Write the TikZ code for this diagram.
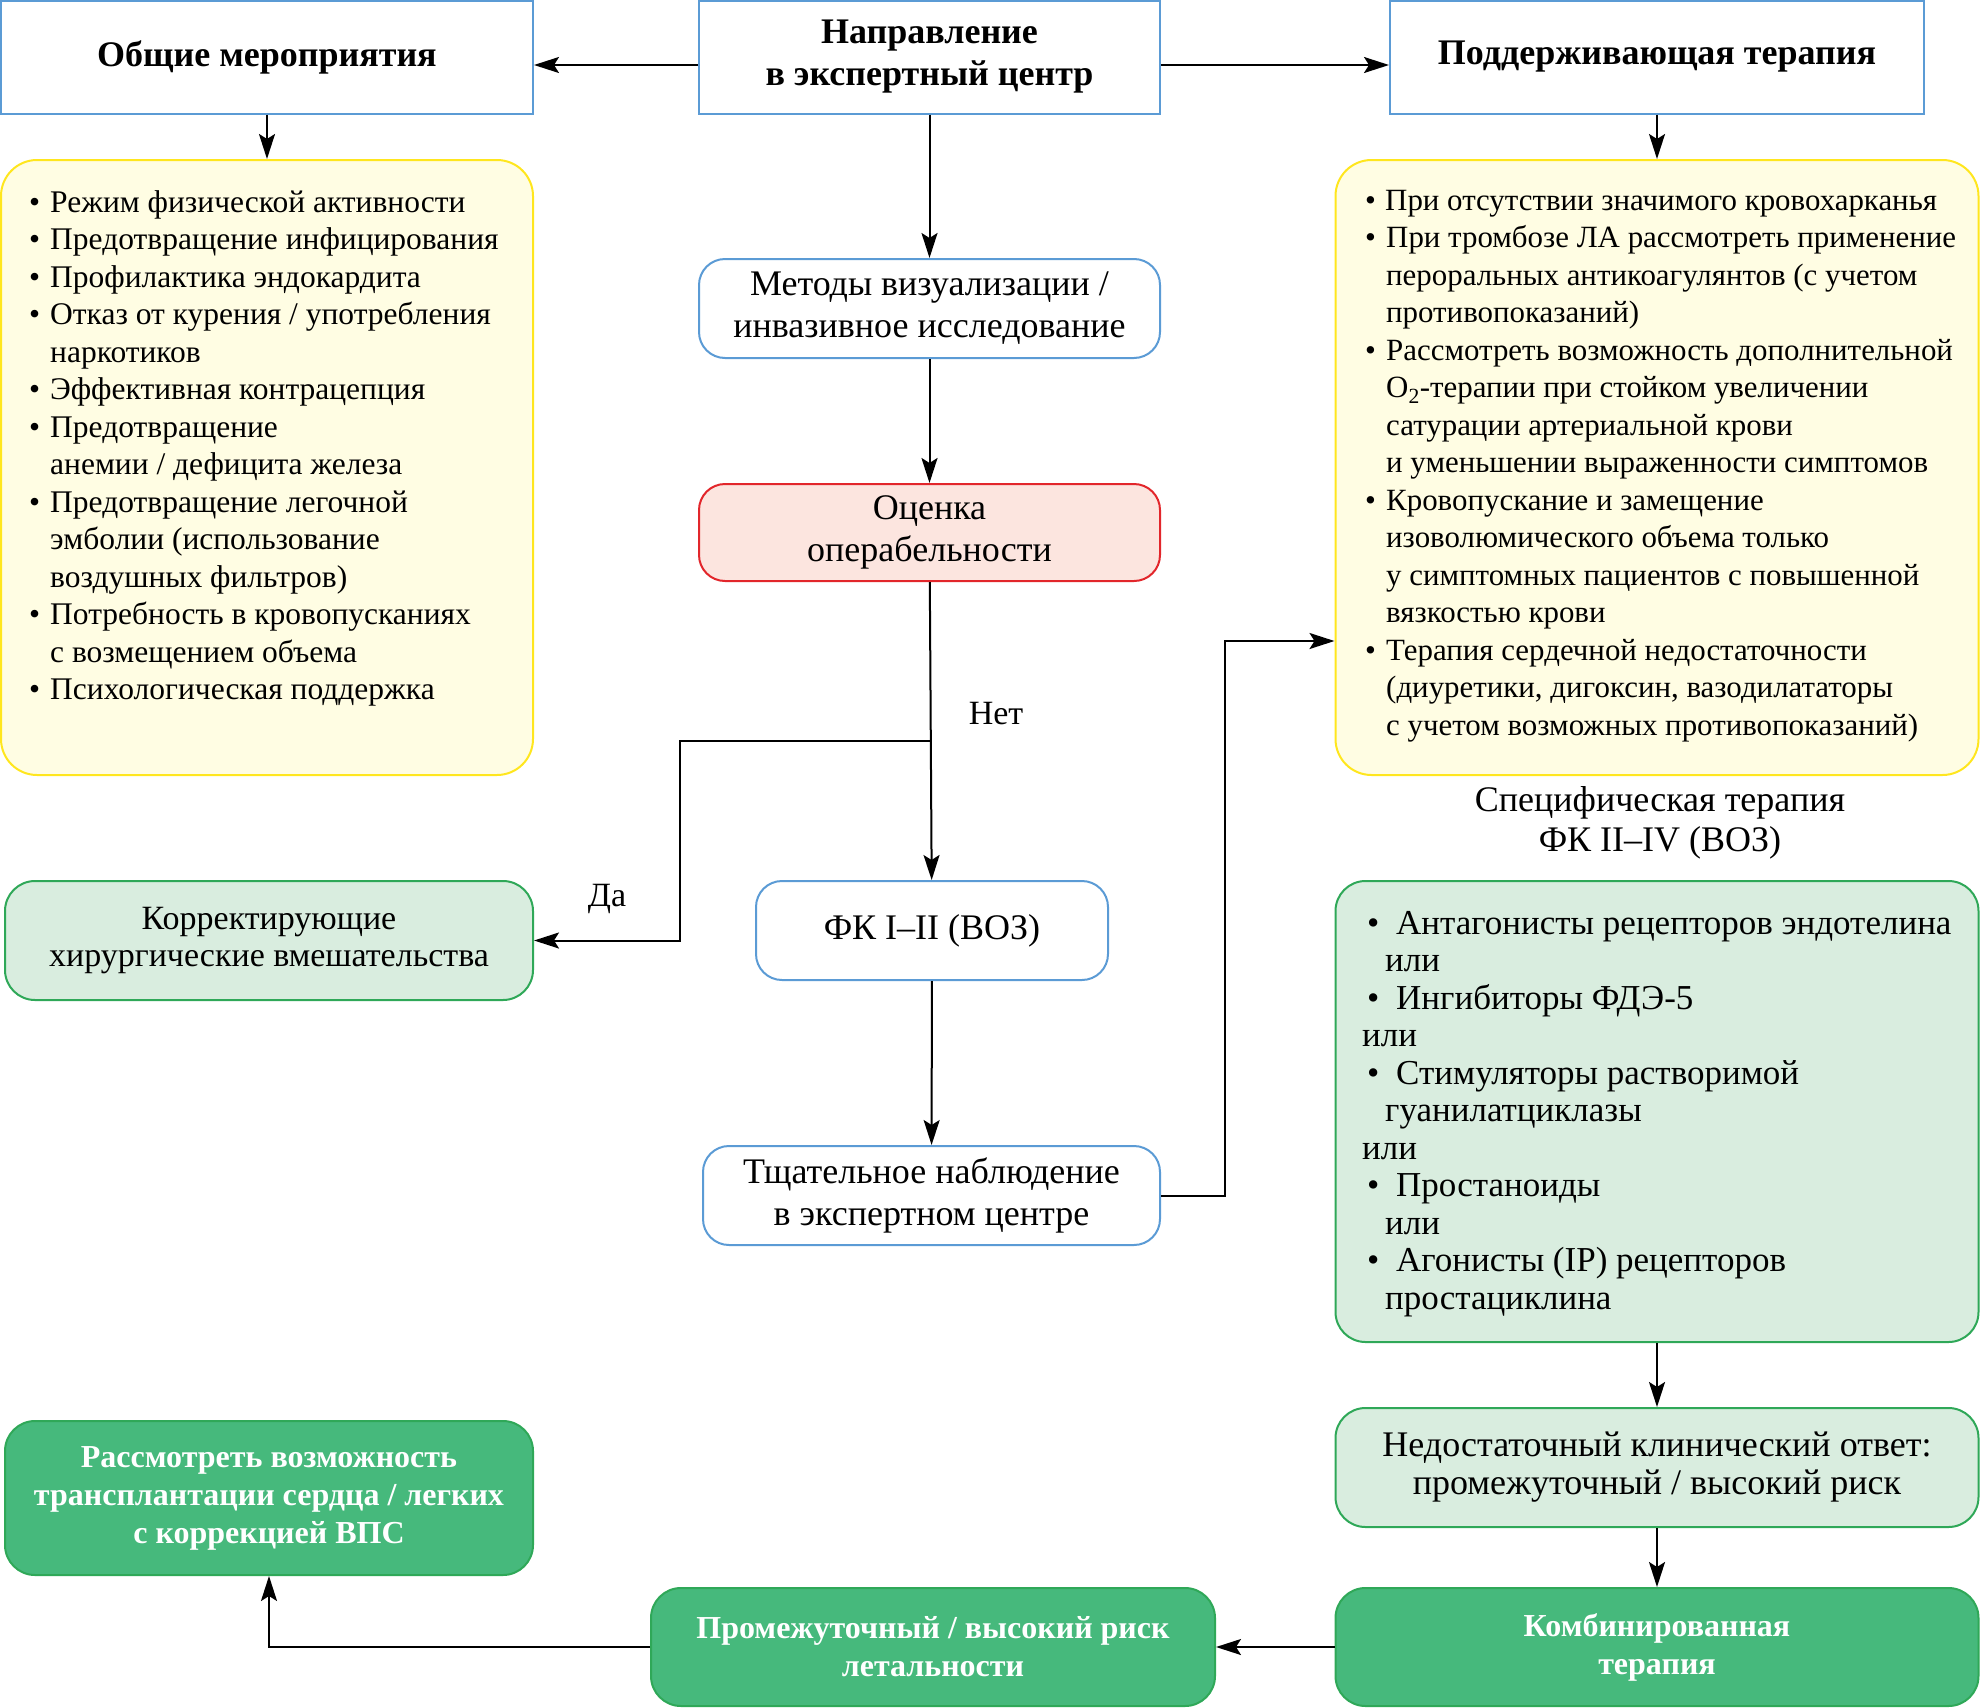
\documentclass[tikz,border=0pt]{standalone}
\usepackage{fontspec}
\setmainfont{Liberation Serif}
\usetikzlibrary{arrows.meta}

\definecolor{headblue}{HTML}{5B9BD5}
\definecolor{noteyellow}{HTML}{FFFDE3}
\definecolor{edgeyellow}{HTML}{FFE61E}
\definecolor{operred}{HTML}{FCE5DF}
\definecolor{edgered}{HTML}{E2262B}
\definecolor{palegreen}{HTML}{D9EDDF}
\definecolor{edgegreen}{HTML}{2FA858}
\definecolor{deepgreen}{HTML}{46B97C}

\newlength\dotwidth
\setlength\dotwidth{21pt}
\newcommand\dotitem{\makebox[\dotwidth][l]{•}}
\newcommand\dotcont{\hspace*{\dotwidth}}
\newcommand\specitem{\hspace*{5pt}\makebox[29pt][l]{•}}
\newcommand\speccont{\hspace*{23pt}}

\begin{document}
\begin{tikzpicture}[x=1pt,y=-1pt,
    head/.style={draw=headblue,line width=2pt,fill=white,align=center,inner sep=0pt,
      font=\fontsize{36}{42}\selectfont\bfseries},
    stage/.style={draw=headblue,line width=2pt,fill=white,rounded corners=26pt,align=center,
      inner sep=0pt,font=\fontsize{36}{42}\selectfont},
    notebox/.style={draw=edgeyellow,line width=2pt,fill=noteyellow,rounded corners=36pt},
    notetext/.style={anchor=north west,align=left,inner sep=0pt,
      font=\fontsize{31.5}{37.5}\selectfont},
    greenbox/.style={draw=edgegreen,line width=2pt,fill=palegreen,rounded corners=30pt,
      align=center,inner sep=0pt,font=\fontsize{34}{37.5}\selectfont},
    darkbox/.style={draw=edgegreen,line width=2pt,fill=deepgreen,rounded corners=30pt,
      align=center,inner sep=0pt,text=white,font=\fontsize{32}{38}\selectfont\bfseries},
    arr/.style={-{Stealth[length=25pt,width=16pt,inset=5pt]},line width=2pt},
    lbl/.style={inner sep=0pt,font=\fontsize{34}{40}\selectfont}]

  \useasboundingbox (0,0) rectangle (1982,1708);

  \node[head,minimum width=532pt,minimum height=113pt] (gen)  at (267,57)    {Общие мероприятия};
  \node[head,minimum width=461pt,minimum height=113pt] (dir)  at (929.5,57)  {Направление\\в экспертный центр};
  \node[head,minimum width=534pt,minimum height=113pt] (supp) at (1657,57)   {Поддерживающая терапия};

  \node[notebox,minimum width=532pt,minimum height=615pt] (genlist)  at (267,467.5)  {};
  \node[notebox,minimum width=643pt,minimum height=615pt] (supplist) at (1657,467.5) {};

  \node[notetext] (genitems) at (29,190) {%
    \dotitem Режим физической активности\\
    \dotitem Предотвращение инфицирования\\
    \dotitem Профилактика эндокардита\\
    \dotitem Отказ от курения / употребления\\
    \dotcont наркотиков\\
    \dotitem Эффективная контрацепция\\
    \dotitem Предотвращение\\
    \dotcont анемии / дефицита железа\\
    \dotitem Предотвращение легочной\\
    \dotcont эмболии (использование\\
    \dotcont воздушных фильтров)\\
    \dotitem Потребность в кровопусканиях\\
    \dotcont с возмещением объема\\
    \dotitem Психологическая поддержка};

  \node[notetext,font=\fontsize{30.9}{37.5}\selectfont] (suppitems) at (1365,190) {%
    \setlength\dotwidth{20pt}%
    \dotitem При отсутствии значимого кровохарканья\\
    \dotitem При тромбозе ЛА рассмотреть применение\\
    \dotcont пероральных антикоагулянтов (с учетом\\
    \dotcont противопоказаний)\\
    \dotitem Рассмотреть возможность дополнительной\\
    \dotcont O\textsubscript{2}-терапии при стойком увеличении\\
    \dotcont сатурации артериальной крови\\
    \dotcont и уменьшении выраженности симптомов\\
    \dotitem Кровопускание и замещение\\
    \dotcont изоволюмического объема только\\
    \dotcont у симптомных пациентов с повышенной\\
    \dotcont вязкостью крови\\
    \dotitem Терапия сердечной недостаточности\\
    \dotcont (диуретики, дигоксин, вазодилататоры\\
    \dotcont с учетом возможных противопоказаний)};

  \node[stage,minimum width=461pt,minimum height=99pt] (img) at (929.5,308.5) {Методы визуализации /\\инвазивное исследование};
  \node[stage,minimum width=461pt,minimum height=97pt,draw=edgered,fill=operred] (oper) at (929.5,532.5) {Оценка\\операбельности};
  \node[stage,minimum width=352pt,minimum height=99pt] (fk12)  at (932,930.5)    {ФК I–II (ВОЗ)};
  \node[stage,minimum width=457pt,minimum height=99pt] (watch) at (931.5,1195.5) {Тщательное наблюдение\\в экспертном центре};

  \node[greenbox,minimum width=528pt,minimum height=119pt] (surg) at (269,940.5) {Корректирующие\\хирургические вмешательства};

  \node[lbl,align=center,font=\fontsize{36}{40.5}\selectfont] (spectitle) at (1660,823) {Специфическая терапия\\ФК II–IV (ВОЗ)};
  \node[greenbox,minimum width=643pt,minimum height=461pt] (spec) at (1657,1111.5) {};
  \node[notetext,font=\fontsize{35}{37.5}\selectfont] (specitems) at (1362,911) {%
    \specitem Антагонисты рецепторов эндотелина\\
    \speccont или\\
    \specitem Ингибиторы ФДЭ-5\\
    или\\
    \specitem Стимуляторы растворимой\\
    \speccont гуанилатциклазы\\
    или\\
    \specitem Простаноиды\\
    \speccont или\\
    \specitem Агонисты (IP) рецепторов\\
    \speccont простациклина};

  \node[greenbox,minimum width=643pt,minimum height=119pt,font=\fontsize{36}{38}\selectfont] (resp) at (1657,1467.5) {Недостаточный клинический ответ:\\промежуточный / высокий риск};
  \node[darkbox,minimum width=643pt,minimum height=118pt] (combo)  at (1657,1647) {Комбинированная\\терапия};
  \node[darkbox,minimum width=564pt,minimum height=118pt] (risk)   at (933,1647)  {Промежуточный / высокий риск\\летальности};
  \node[darkbox,minimum width=528pt,minimum height=154pt] (transp) at (269,1498)  {Рассмотреть возможность\\трансплантации сердца / легких\\с коррекцией ВПС};

  \coordinate (split) at (929.5,741);
  \coordinate (yesturn) at (680,741);
  \coordinate (back) at (1225,641);

  \node[lbl] (nolabel)  at (996,714) {Нет};
  \node[lbl] (yeslabel) at (607,899) {Да};

  \path[arr] ([yshift=-8pt]dir.west) edge ([yshift=-8pt]gen.east)
             ([yshift=-8pt]dir.east) edge ([yshift=-8pt]supp.west)
             (gen) edge (genlist)
             (supp) edge (supplist)
             (dir) edge (img)
             (img) edge (oper)
             (oper) edge (fk12)
             (fk12) edge (watch)
             (spec) edge (resp)
             (resp) edge (combo)
             (combo) edge (risk);

  \draw[arr] (split) -- (yesturn) |- (surg.east);
  \draw[arr] (watch.east) -| (back) -- (back -| supplist.west);
  \draw[arr] (risk.west) -| (transp.south);

\end{tikzpicture}
\end{document}
